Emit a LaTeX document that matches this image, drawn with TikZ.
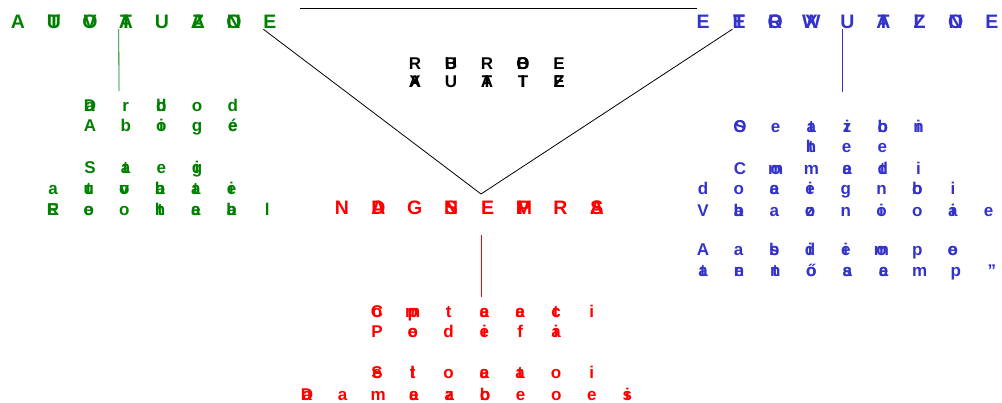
\documentclass[tikz,border=0pt]{standalone}
\usepackage{fontspec}
\setmainfont{Liberation Sans}
\usetikzlibrary{calc}

\definecolor{autogreen}{RGB}{0,128,0}
\definecolor{execblue}{RGB}{51,51,204}
\definecolor{taskred}{RGB}{255,0,0}

% two letters printed on the same spot
\newcommand{\ov}[2]{\ooalign{\hfil#1\hfil\cr\hfil#2\hfil\cr}}

% one row of letters: name, first x, baseline y, pitch, style, letters
\newcommand{\glyphrow}[6]{%
  \foreach \g [count=\i] in {#6}
  {
    \node[#5] (#1-\i) at ({#2+#4*(\i-1)},#3) {\g};
  }
}

\tikzset{
  glyph/.style={inner sep=0pt, anchor=base, font=\bfseries\fontsize{17}{20}\selectfont},
  headglyph/.style={glyph, font=\bfseries\fontsize{19.5}{22}\selectfont},
  thinline/.style={line width=0.8pt}
}

\begin{document}
\begin{tikzpicture}[x=1pt, y=-1pt]

\useasboundingbox (0,0) rectangle (1002,403);

% Headings
\glyphrow{gh}{18}{29}{36}{headglyph, text=autogreen}{A,\ov UT,\ov OV,\ov AT,U,\ov AZ,\ov NO,E}
\glyphrow{bh}{703}{29}{36.1}{headglyph, text=execblue}{E,\ov ET,\ov OR,\ov XW,U,\ov AT,\ov ZL,\ov ON,E}
\glyphrow{rh}{342}{215}{36.4}{headglyph, text=taskred}{N,\ov DA,G,\ov NS,E,\ov MP,R,\ov AS}

% Centre text
\glyphrow{ca}{415}{70}{36}{glyph, text=black}{R,\ov BU,R,\ov OB,E}
\glyphrow{cb}{415}{88}{36}{glyph, text=black}{\ov XA,U,\ov AT,\ov TI,\ov EZ}

% Left block
\glyphrow{ga}{90}{112}{35.7}{glyph, text=autogreen}{\ov Da,r,\ov bd,o,d}
\glyphrow{gb}{90}{132}{35.7}{glyph, text=autogreen}{A,b,\ov oi,g,\ov e{\'e}}
\glyphrow{gc}{90}{174}{35.7}{glyph, text=autogreen}{S,\ov ta,e,\ov gi}
\glyphrow{gd}{53}{195}{35.7}{glyph, text=autogreen}{a,\ov tu,\ov ov,\ov ba,\ov ta,\ov ie}
\glyphrow{ge}{53}{216}{35.7}{glyph, text=autogreen}{\ov RE,\ov eo,o,\ov th,\ov ea,\ov ba,l}

% Right block
\glyphrow{ba}{740}{133}{35.7}{glyph, text=execblue}{\ov OS,e,\ov at,\ov zi,\ov ob,\ov ni}
\glyphrow{bb}{811}{153}{35.7}{glyph, text=execblue}{\ov th,e,e}
\glyphrow{bc}{740}{175}{35.7}{glyph, text=execblue}{C,\ov om,m,\ov ea,\ov td,i}
\glyphrow{bd}{703}{195}{35.7}{glyph, text=execblue}{d,o,\ov ea,\ov ei,g,n,\ov bo,i}
\glyphrow{be}{703}{217}{35.7}{glyph, text=execblue}{V,\ov ab,a,\ov zo,n,\ov oi,o,\ov ai,e}
\glyphrow{bf}{703}{256}{35.7}{glyph, text=execblue}{A,a,\ov bs,\ov di,\ov ei,\ov om,p,\ov eo}
\glyphrow{bg}{703}{277}{36.1}{glyph, text=execblue}{\ov at,\ov en,\ov tn,\ov o{\H o},\ov sa,\ov ea,m,p,”}

% Bottom block
\glyphrow{ra}{377}{318}{35.8}{glyph, text=taskred}{\ov Co,\ov pm,t,\ov ae,\ov ea,\ov ct,i}
\glyphrow{rb}{377}{338}{35.8}{glyph, text=taskred}{P,\ov eo,d,\ov ei,f,\ov ai}
\glyphrow{rc}{377}{379}{35.8}{glyph, text=taskred}{\ov Se,\ov lt,o,\ov ae,\ov ta,o,i}
\glyphrow{rd}{307}{401}{35.6}{glyph, text=taskred}{\ov Da,a,m,\ov ae,\ov za,\ov ob,e,o,e,\ov si}

% Triangle
\coordinate (apex) at (481,194);
\coordinate (topL) at (300,8);
\coordinate (topR) at (697,8);
\draw[thinline] (topL) -- (topR);
\draw[thinline] (gh-8.south west) -- (apex) -- (bh-2.south west);

% Vertical ticks
\coordinate (gbot) at (119,91);
\draw[thinline, autogreen] (gh-4.south west) -- (gbot);
\coordinate (btop) at (842,29);
\coordinate (bbot) at (842,92);
\draw[thinline, execblue] (btop) -- (bbot);
\coordinate (rtop) at (481,235);
\coordinate (rbot) at (481,297);
\draw[thinline, taskred] (rtop) -- (rbot);

\end{tikzpicture}
\end{document}
